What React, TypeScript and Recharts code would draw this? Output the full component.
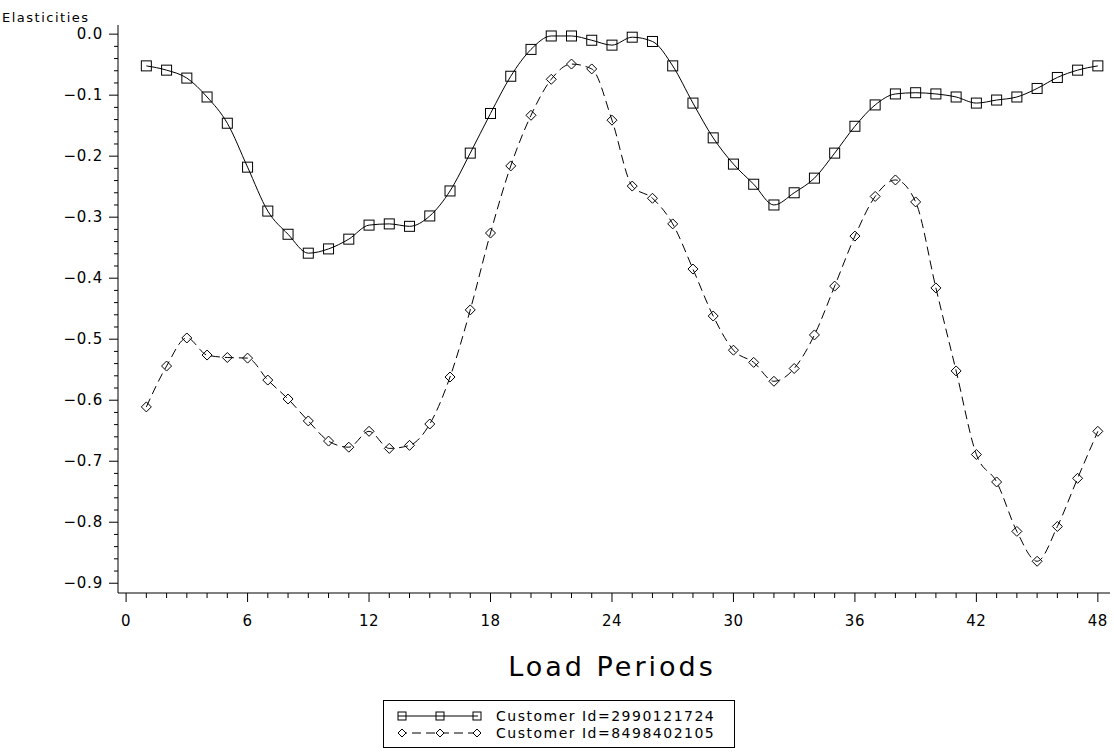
import React from 'react'
import { LineChart, Line, XAxis, YAxis } from 'recharts'

const periods = [
  1, 2, 3, 4, 5, 6, 7, 8, 9, 10, 11, 12, 13, 14, 15, 16, 17, 18, 19, 20, 21, 22, 23, 24,
  25, 26, 27, 28, 29, 30, 31, 32, 33, 34, 35, 36, 37, 38, 39, 40, 41, 42, 43, 44, 45, 46, 47, 48,
]

const customerA = [
  -0.052, -0.059, -0.072, -0.103, -0.146, -0.218, -0.29, -0.328, -0.359, -0.352, -0.336, -0.313,
  -0.311, -0.315, -0.298, -0.257, -0.195, -0.13, -0.069, -0.025, -0.003, -0.003, -0.01, -0.018,
  -0.005, -0.012, -0.052, -0.113, -0.17, -0.213, -0.246, -0.28, -0.26, -0.236, -0.195, -0.151,
  -0.116, -0.098, -0.096, -0.098, -0.103, -0.113, -0.108, -0.103, -0.089, -0.071, -0.059, -0.052,
]

const customerB = [
  -0.611, -0.544, -0.498, -0.526, -0.53, -0.531, -0.567, -0.598, -0.634, -0.667, -0.677, -0.651,
  -0.679, -0.674, -0.639, -0.562, -0.452, -0.326, -0.216, -0.133, -0.074, -0.049, -0.057, -0.141,
  -0.249, -0.269, -0.311, -0.385, -0.462, -0.518, -0.538, -0.569, -0.548, -0.493, -0.413, -0.331,
  -0.266, -0.239, -0.275, -0.416, -0.552, -0.689, -0.734, -0.815, -0.864, -0.807, -0.728, -0.651,
]

const seriesNames = ['Customer Id=2990121724', 'Customer Id=8498402105']

const xMajorTicks = [0, 6, 12, 18, 24, 30, 36, 42, 48]
const xTickLabels = ['0', '6', '12', '18', '24', '30', '36', '42', '48']
const yMajorTicks = [0, -0.1, -0.2, -0.3, -0.4, -0.5, -0.6, -0.7, -0.8, -0.9]
const yTickLabels = ['0.0', '\u22120.1', '\u22120.2', '\u22120.3', '\u22120.4', '\u22120.5', '\u22120.6', '\u22120.7', '\u22120.8', '\u22120.9']

// minor ticks: every period on x, every 0.02 on y
const xTicks = Array.from({ length: 49 }, (_, i) => i)
const yTicks = Array.from({ length: 46 }, (_, i) => Number((-0.9 + i * 0.02).toFixed(2)))

const data = periods.map((p, i) => ({ period: p, a: customerA[i], b: customerB[i] }))

const FONT = '"DejaVu Sans", Arial, sans-serif'

const XTick = (props: any) => {
  const { x, y, payload } = props
  const idx = xMajorTicks.indexOf(payload.value)
  const major = idx >= 0
  return (
    <g>
      <line x1={x} y1={y} x2={x} y2={y + (major ? 9 : 5)} stroke="#000" />
      {major && (
        <text x={x} y={y + 33} textAnchor="middle" fontSize={15} fontFamily={FONT} letterSpacing={0.5} fill="#000">
          {xTickLabels[idx]}
        </text>
      )}
    </g>
  )
}

const YTick = (props: any) => {
  const { x, y, payload } = props
  const idx = yMajorTicks.findIndex((v) => Math.abs(v - payload.value) < 1e-6)
  const major = idx >= 0
  return (
    <g>
      <line x1={x} y1={y} x2={x - (major ? 9 : 4)} y2={y} stroke="#000" />
      {major && (
        <text x={x - 15} y={y + 5} textAnchor="end" fontSize={15} fontFamily={FONT} letterSpacing={0.8} fill="#000">
          {yTickLabels[idx]}
        </text>
      )}
    </g>
  )
}

const squareDot = (props: any) => {
  const { cx, cy, index } = props
  return <rect key={`sq-${index}`} x={cx - 5} y={cy - 5} width={10} height={10} fill="none" stroke="#000" strokeWidth={1} />
}

const diamondDot = (props: any) => {
  const { cx, cy, index } = props
  return (
    <polygon
      key={`dm-${index}`}
      points={`${cx},${cy - 5} ${cx + 5},${cy} ${cx},${cy + 5} ${cx - 5},${cy}`}
      fill="none"
      stroke="#000"
      strokeWidth={1}
    />
  )
}

function LegendBox() {
  return (
    <svg width={354} height={50} style={{ position: 'absolute', left: 382, top: 699 }}>
      <rect x={1.5} y={1.5} width={351} height={47} fill="white" stroke="#000" strokeWidth={1} />
      {/* row 1 */}
      <line x1={16} y1={17} x2={96} y2={17} stroke="#000" />
      {[20, 58, 95].map((cx) => (
        <rect key={cx} x={cx - 4} y={13} width={8} height={8} fill="none" stroke="#000" />
      ))}
      <text x={114} y={22} fontSize={14} fontFamily={FONT} letterSpacing={1.5} fill="#000">
        {seriesNames[0]}
      </text>
      {/* row 2 */}
      <line x1={16} y1={34} x2={96} y2={34} stroke="#000" strokeDasharray="9 5" />
      {[20, 58, 95].map((cx) => (
        <polygon
          key={cx}
          points={`${cx},${30} ${cx + 4},${34} ${cx},${38} ${cx - 4},${34}`}
          fill="white"
          stroke="#000"
        />
      ))}
      <text x={114} y={39} fontSize={14} fontFamily={FONT} letterSpacing={1.5} fill="#000">
        {seriesNames[1]}
      </text>
    </svg>
  )
}

export default function App() {
  return (
    <div style={{ position: 'absolute', left: 0, top: 0, width: 1114, height: 753, background: '#fff' }}>
      <LineChart width={1114} height={753} data={data} margin={{ top: 25, right: 4, left: 58, bottom: 130 }}>
        <XAxis
          dataKey="period"
          type="number"
          domain={[-0.4, 48.6]}
          ticks={xTicks}
          interval={0}
          height={30}
          tickSize={0}
          tickMargin={0}
          tickLine={false}
          tick={XTick}
          axisLine={{ stroke: '#000' }}
          label={{
            content: () => (
              <text x={612} y={676} textAnchor="middle" fontSize={27} fontFamily={FONT} letterSpacing={3} fill="#000">
                Load Periods
              </text>
            ),
          }}
        />
        <YAxis
          type="number"
          domain={[-0.916, 0.015]}
          allowDataOverflow
          ticks={yTicks}
          interval={0}
          width={60}
          tickSize={0}
          tickMargin={0}
          tickLine={false}
          tick={YTick}
          axisLine={{ stroke: '#000' }}
          label={{
            content: () => (
              <text x={2} y={22} fontSize={13} fontFamily={FONT} letterSpacing={1.5} fill="#000">
                Elasticities
              </text>
            ),
          }}
        />
        <Line
          type="monotone"
          dataKey="a"
          name={seriesNames[0]}
          stroke="#000"
          strokeWidth={1}
          dot={squareDot}
          activeDot={false}
          isAnimationActive={false}
        />
        <Line
          type="monotone"
          dataKey="b"
          name={seriesNames[1]}
          stroke="#000"
          strokeWidth={1}
          strokeDasharray="9 5"
          dot={diamondDot}
          activeDot={false}
          isAnimationActive={false}
        />
      </LineChart>
      <LegendBox />
    </div>
  )
}
